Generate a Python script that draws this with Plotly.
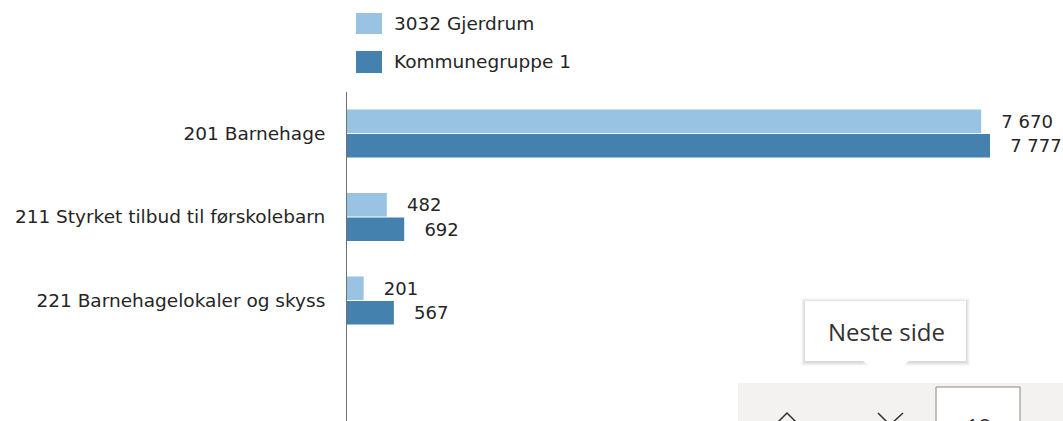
import plotly.graph_objects as go

# ---- data ----
categories = ["201 Barnehage", "211 Styrket tilbud til førskolebarn", "221 Barnehagelokaler og skyss"]
series_names = ["3032 Gjerdrum", "Kommunegruppe 1"]
gjerdrum = [7670, 482, 201]
kommunegruppe = [7777, 692, 567]
colors = ["#98C3E3", "#4581AE"]

W, H = 1063, 421            # target picture
PL, PT = 347, 92            # plot area top-left in picture pixels
FONT = "DejaVu Sans"
TXT = "#252525"

def fmt(v):
    return "\u00a0\u00a0\u00a0" + f"{v:,}".replace(",", " ")

fig = go.Figure()
for name, vals, col in zip(series_names, [gjerdrum, kommunegruppe], colors):
    fig.add_trace(go.Bar(
        y=categories, x=vals, name=name, orientation="h",
        marker=dict(color=col, line=dict(width=0)),
        text=[fmt(v) for v in vals], textposition="outside",
        textfont=dict(family=FONT, size=18, color=TXT),
        cliponaxis=False, constraintext="none", showlegend=False,
    ))

pw, ph = W - PL, H - PT
def px(x):
    return (x - PL) / pw
def py(y):
    return (H - y) / ph

shapes = []
annotations = []

# legend
for i, (name, col) in enumerate(zip(series_names, colors)):
    y0, y1 = (13, 34) if i == 0 else (51, 73)
    shapes.append(dict(type="rect", xref="paper", yref="paper",
                       x0=px(356), x1=px(382), y0=py(y1), y1=py(y0),
                       fillcolor=col, line=dict(width=0)))
    annotations.append(dict(xref="paper", yref="paper", x=px(392), y=py((y0 + y1) / 2),
                            text=name, showarrow=False, xanchor="left", yanchor="middle",
                            font=dict(family=FONT, size=18.5, color=TXT)))

# navigation bar
shapes.append(dict(type="rect", xref="paper", yref="paper", x0=px(738), x1=px(1063),
                   y0=py(421), y1=py(383), fillcolor="#F3F2F1", line=dict(width=0)))
shapes.append(dict(type="rect", xref="paper", yref="paper", x0=px(936), x1=px(1020),
                   y0=py(430), y1=py(387), fillcolor="#FFFFFF", line=dict(color="#8A8886", width=1)))
# chevrons
shapes.append(dict(type="path", xref="paper", yref="paper",
                   path=f"M {px(775)} {py(425)} L {px(787)} {py(413)} L {px(799)} {py(425)}",
                   line=dict(color="#323130", width=1.5)))
shapes.append(dict(type="path", xref="paper", yref="paper",
                   path=f"M {px(878)} {py(413)} L {px(890)} {py(425)} L {px(903)} {py(413)}",
                   line=dict(color="#323130", width=1.5)))
annotations.append(dict(xref="paper", yref="paper", x=px(978), y=py(409), text="18",
                        showarrow=False, xanchor="center", yanchor="top",
                        font=dict(family="Open Sans", size=22, color="#323130")))
annotations.append(dict(xref="paper", yref="paper", x=px(1030), y=py(407), text="av",
                        showarrow=False, xanchor="left", yanchor="top",
                        font=dict(family="Open Sans", size=22, color="#323130")))

# tooltip shadow + box + arrow
for k, a in [(4, 0.025), (3, 0.03), (2, 0.04), (1, 0.05)]:
    shapes.append(dict(type="rect", xref="paper", yref="paper",
                       x0=px(805 - k), x1=px(966 + k), y0=py(361 + k + 1), y1=py(301 - k + 1),
                       fillcolor=f"rgba(0,0,0,{a})", line=dict(width=0)))
shapes.append(dict(type="rect", xref="paper", yref="paper", x0=px(805), x1=px(966),
                   y0=py(361), y1=py(301), fillcolor="#FFFFFF", line=dict(width=0)))
shapes.append(dict(type="path", xref="paper", yref="paper",
                   path=f"M {px(862)} {py(360)} L {px(886)} {py(382)} L {px(910)} {py(360)} Z",
                   fillcolor="#FFFFFF", line=dict(width=0)))
annotations.append(dict(xref="paper", yref="paper", x=px(886), y=py(331), text="Neste side",
                        showarrow=False, xanchor="center", yanchor="middle",
                        font=dict(family="Open Sans", size=24, color="#323130")))

fig.update_layout(
    width=W, height=H,
    margin=dict(l=PL, r=0, t=PT, b=0, pad=0),
    paper_bgcolor="white", plot_bgcolor="white",
    barmode="group", bargap=0.413, bargroupgap=0.04,
    xaxis=dict(range=[0, pw / 0.08268], visible=False, showgrid=False, zeroline=False),
    yaxis=dict(range=[3.443, -0.497], showline=True, linecolor="#707070", linewidth=1,
               showgrid=False, ticks="", ticklabelstandoff=17,
               tickfont=dict(family=FONT, size=18.5, color=TXT)),
    shapes=shapes, annotations=annotations,
    showlegend=False,
)

fig.write_html("out.html", config={"displayModeBar": False},
               post_script="document.body.style.margin='0px';document.body.style.overflow='hidden';")
